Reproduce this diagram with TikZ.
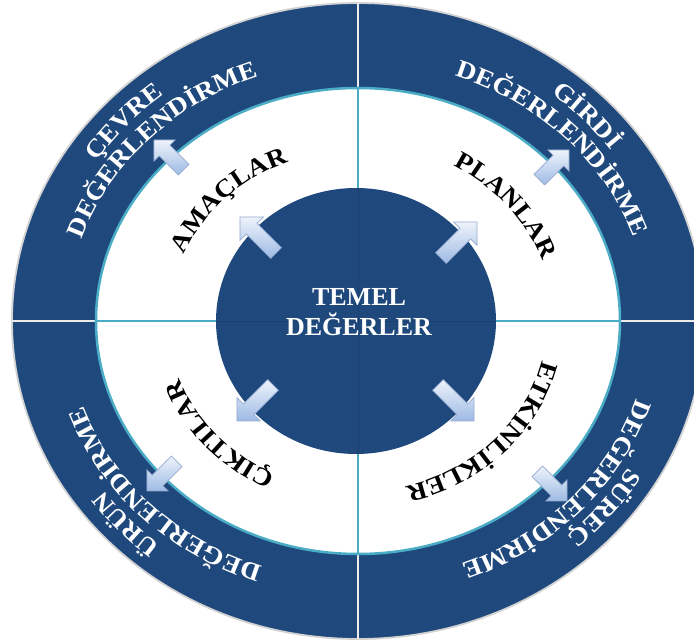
\documentclass[tikz,border=0pt]{standalone}
\usepackage{fontspec}
\setmainfont{Liberation Serif}
\newfontfamily\widefont[FakeStretch=1.1]{Liberation Serif}
\usetikzlibrary{decorations.text}
\definecolor{ringblue}{RGB}{31,73,125}
\definecolor{ringteal}{RGB}{75,172,198}
\definecolor{arrlight}{RGB}{238,243,251}
\definecolor{arrdark}{RGB}{158,186,228}
\definecolor{arredge}{RGB}{150,172,210}
\tikzset{
  arrowshape/.style={draw=arredge, line width=0.7pt, top color=arrlight, bottom color=arrdark},
  bandline/.style={draw=white!85!gray, line width=2pt},
  whiteline/.style={draw=ringteal, line width=2pt},
}
% #1 rx, #2 ry, #3 centre angle, #4 format, #5 text  (text centred on the arc, read clockwise)
\newcommand\ringtext[5]{%
  \path[decorate, decoration={text along path, text={|#4|#5}, text align=center}]
    ({#1*cos(#3+40)},{#2*sin(#3+40)}) arc[start angle=#3+40, end angle=#3-40, x radius=#1, y radius=#2];
}
% #1 x, #2 y (tip), #3 direction, #4 length, #5 head half width (= head length), #6 shaft half width
\newcommand\blockarr[6]{%
  \begin{scope}[shift={(#1,#2)}, rotate=#3]
    \path[arrowshape] (0,0) -- (-#5,#5) -- (-#5,#6) -- (-#4,#6) -- (-#4,-#6) -- (-#5,-#6) -- (-#5,-#5) -- cycle;
  \end{scope}
}
\newcommand\bandfmt{\widefont\bfseries\fontsize{25}{26}\selectfont\color{white}}
\newcommand\labelfmt{\widefont\bfseries\fontsize{25}{26}\selectfont\color{black}}
\begin{document}
\begin{tikzpicture}[x=1pt,y=1pt]
\useasboundingbox (-358,-321) rectangle (336,321);
\fill[white] (-358,-321) rectangle (336,321);
% outer blue disc
\path[fill=ringblue, draw=gray!35, line width=1.8pt] (0,0) ellipse[x radius=346, y radius=318];
\draw[bandline] (-346,0) -- (346,0);
\draw[bandline] (0,-318) -- (0,318);
% white ring
\path[fill=white] (0,0) ellipse[x radius=262, y radius=233];
\draw[whiteline] (-262,0) -- (262,0);
\draw[whiteline] (0,-233) -- (0,233);
\draw[ringteal, line width=2.5pt] (0,0) ellipse[x radius=262, y radius=233];
% core
\path[fill=ringblue] (-2,0) ellipse[x radius=140, y radius=133];
\draw[ringblue!88!black, line width=0.6pt] (-142,0) -- (138,0);
\draw[ringblue!88!black, line width=0.6pt] (0,-133) -- (0,133);
\node[font=\bfseries\fontsize{26}{30}\selectfont, text=white, align=center] (core) at (1,9) {TEMEL\\DEĞERLER};
% inner arrows
\blockarr{-118}{104}{135}{51}{16.5}{7.5}
\blockarr{119}{99}{45}{51}{16.5}{7.5}
\blockarr{-121}{-100}{225}{51}{16.5}{7.5}
\blockarr{116}{-100}{-45}{51}{16.5}{7.5}
% outer arrows
\blockarr{-204}{181}{135}{42}{15}{7.5}
\blockarr{211}{171}{45}{42}{15}{7.5}
\blockarr{-211}{-170}{225}{42}{15}{7.5}
\blockarr{209}{-180}{-45}{42}{15}{7.5}
% band texts
\ringtext{314}{288}{138.25}{\bandfmt}{ÇEVRE}
\ringtext{291}{260}{136.5}{\bandfmt}{DEĞERLENDİRME}
\ringtext{314}{288}{43.25}{\bandfmt}{GİRDİ}
\ringtext{291}{260}{44}{\bandfmt}{DEĞERLENDİRME}
\ringtext{314}{288}{-38.5}{\bandfmt}{SÜREÇ}
\ringtext{291}{260}{-42.5}{\bandfmt}{DEĞERLENDİRME}
\ringtext{314}{288}{222.5}{\bandfmt}{ÜRÜN}
\ringtext{291}{260}{224.25}{\bandfmt}{DEĞERLENDİRME}
% white ring labels
\ringtext{189}{171}{135}{\labelfmt}{AMAÇLAR}
\ringtext{196}{178}{39.5}{\labelfmt}{PLANLAR}
\ringtext{189}{171}{-44}{\labelfmt}{ETKİNLİKLER}
\ringtext{189}{171}{221}{\labelfmt}{ÇIKTILAR}
\end{tikzpicture}
\end{document}
